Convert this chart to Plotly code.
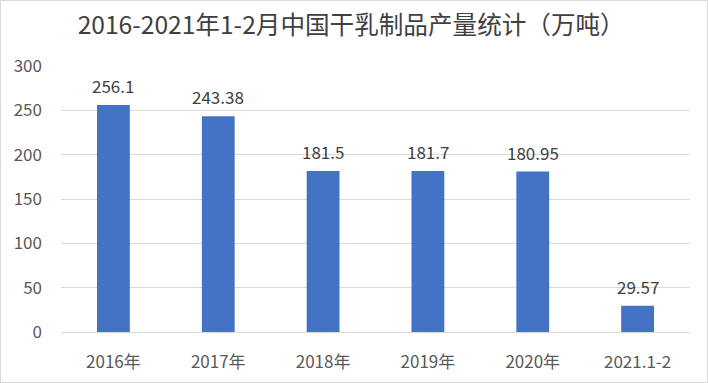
import plotly.graph_objects as go

categories = ["2016年", "2017年", "2018年", "2019年", "2020年", "2021.1-2"]
values = [256.1, 243.38, 181.5, 181.7, 180.95, 29.57]
labels = ["256.1", "243.38", "181.5", "181.7", "180.95", "29.57"]
y_ticks = [0, 50, 100, 150, 200, 250, 300]

FONT = "Noto Sans CJK SC, Noto Sans, sans-serif"

fig = go.Figure(go.Bar(
    x=categories, y=values,
    marker=dict(color="#4472C4", line=dict(width=0)),
))

for c, v, t in zip(categories, values, labels):
    fig.add_annotation(x=c, y=v, text=t, showarrow=False, yanchor="bottom",
                       yshift=5, font=dict(size=17, color="#404040", family=FONT))

fig.update_layout(
    width=708, height=383,
    margin=dict(l=61, r=18, t=66, b=51),
    paper_bgcolor="white", plot_bgcolor="white",
    bargap=0.687,
    showlegend=False,
    title=dict(text="2016-2021年1-2月中国干乳制品产量统计（万吨）",
               x=0.496, xanchor="center", y=0.935, yanchor="middle",
               font=dict(size=24.6, color="#404040", family=FONT)),
    xaxis=dict(showgrid=False, showline=True, linecolor="#d9d9d9", linewidth=1,
               ticks="", automargin=False, ticklabelstandoff=15,
               tickfont=dict(size=17, color="#595959", family=FONT)),
    yaxis=dict(range=[0, 300], tickvals=y_ticks, showgrid=True,
               gridcolor="#d9d9d9", gridwidth=1, zeroline=False,
               ticks="", automargin=False, ticklabelstandoff=18,
               tickfont=dict(size=17, color="#595959", family=FONT)),
)
fig.update_layout(shapes=[dict(type="rect", xref="paper", yref="paper",
                               x0=-61/629, x1=1+18/629, y0=-51/266, y1=1+66/266,
                               line=dict(color="#d9d9d9", width=2))])

fig.write_html("out.html", config={"displayModeBar": False},
               post_script="document.body.style.margin='0';document.body.style.overflow='hidden';")
